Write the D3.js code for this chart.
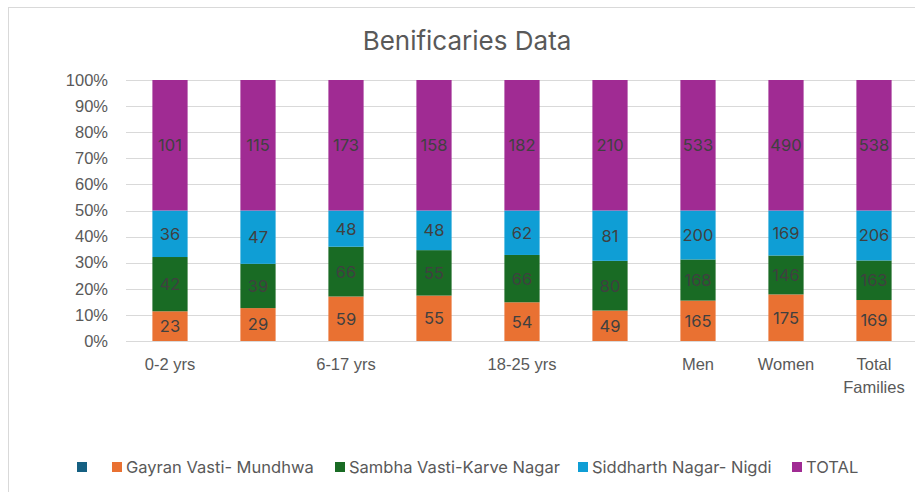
<!DOCTYPE html>
<html>
<head>
<meta charset="utf-8">
<script src="https://cdn.jsdelivr.net/npm/d3@7"></script>
<style>
  body { margin: 0; background: #fff; }
  svg { display: block; font-family: Inter, "Noto Sans", sans-serif; }
  .grid line { stroke: #d9d9d9; stroke-width: 1; }
  .tick-label { fill: #595959; font-size: 16.5px; }
  .data-label { fill: #404040; font-size: 16.5px; }
</style>
</head>
<body>
<div id="chart"></div>
<script>
const chartTitle = 'Benificaries Data'
const tickLabels = ['0-2 yrs', '', '6-17 yrs', '', '18-25 yrs', '', 'Men', 'Women', 'Total Families']
const seriesNames = ['', 'Gayran Vasti- Mundhwa', 'Sambha Vasti-Karve Nagar', 'Siddharth Nagar- Nigdi', 'TOTAL']
const seriesColors = ['#156082', '#e97132', '#196b24', '#0f9ed5', '#a02b93']
const blankSeries = [null, null, null, null, null, null, null, null, null]
const gayran = [23, 29, 59, 55, 54, 49, 165, 175, 169]
const sambha = [42, 39, 66, 55, 66, 80, 168, 146, 163]
const siddharth = [36, 47, 48, 48, 62, 81, 200, 169, 206]
const total = [101, 115, 173, 158, 182, 210, 533, 490, 538]
const yTicks = [0, 0.1, 0.2, 0.3, 0.4, 0.5, 0.6, 0.7, 0.8, 0.9, 1]

const width = 915, height = 492
const margin = { top: 80, right: -3, bottom: 151, left: 126 }

const svg = d3.select('#chart')
    .append('svg')
    .attr('width', width)
    .attr('height', height)

// chart area border (cut off at the right and bottom of the picture)
svg.append('rect')
    .attr('x', 8.5)
    .attr('y', 7.5)
    .attr('width', width + 20)
    .attr('height', height + 20)
    .attr('fill', 'none')
    .attr('stroke', '#d9d9d9')

svg.append('text')
    .attr('x', 467)
    .attr('y', 50)
    .attr('text-anchor', 'middle')
    .attr('fill', '#595959')
    .style('font-size', '26px')
    .text(chartTitle)

const idx = d3.range(tickLabels.length)
const x = d3.scaleBand()
    .domain(idx)
    .range([margin.left, width - margin.right])
    .paddingInner(0.6)
    .paddingOuter(0.3)
const y = d3.scaleLinear()
    .domain([0, 1])
    .range([height - margin.bottom, margin.top])

const grid = svg.append('g').attr('class', 'grid')
grid.selectAll('line')
    .data(yTicks)
    .enter().append('line')
    .attr('x1', margin.left)
    .attr('x2', width - margin.right)
    .attr('y1', d => Math.round(y(d)) + 0.5)
    .attr('y2', d => Math.round(y(d)) + 0.5)

const yAxis = d3.axisLeft(y)
    .tickValues(yTicks)
    .tickFormat(d3.format('.0%'))
    .tickSize(0)
    .tickPadding(18)
svg.append('g')
    .attr('transform', 'translate(' + margin.left + ',0)')
    .call(yAxis)
    .call(g => g.select('.domain').remove())
    .call(g => g.selectAll('text').attr('class', 'tick-label').attr('font-family', null).attr('font-size', null))

const xAxis = d3.axisBottom(x)
    .tickFormat(i => tickLabels[i])
    .tickSize(0)
    .tickPadding(17)
svg.append('g')
    .attr('transform', 'translate(0,' + (height - margin.bottom) + ')')
    .call(xAxis)
    .call(g => g.select('.domain').remove())
    .call(g => g.selectAll('text')
        .attr('class', 'tick-label')
        .attr('font-family', null)
        .attr('font-size', null)
        .each(function(i) {
          const words = tickLabels[i].split(' ')
          if (tickLabels[i] === 'Total Families') {
            const t = d3.select(this).text(null)
            words.forEach((w, k) => {
              t.append('tspan').attr('x', 0).attr('dy', k === 0 ? '0.71em' : '1.4em').text(w)
            })
          }
        }))

const rows = idx.map(i => ({
  i,
  s0: blankSeries[i] || 0,
  s1: gayran[i],
  s2: sambha[i],
  s3: siddharth[i],
  s4: total[i]
}))
const keys = ['s0', 's1', 's2', 's3', 's4']
const stack = d3.stack().keys(keys).offset(d3.stackOffsetExpand)
const layers = stack(rows)

const layerG = svg.append('g')
    .selectAll('g')
    .data(layers)
    .enter().append('g')
    .attr('fill', (d, k) => seriesColors[k])

layerG.selectAll('rect')
    .data(d => d.filter(p => p.data[d.key] > 0))
    .enter().append('rect')
    .attr('x', p => x(p.data.i))
    .attr('width', x.bandwidth())
    .attr('y', p => y(p[1]))
    .attr('height', p => y(p[0]) - y(p[1]))

layerG.selectAll('text')
    .data(d => d.filter(p => p.data[d.key] > 0).map(p => ({ p, v: p.data[d.key] })))
    .enter().append('text')
    .attr('class', 'data-label')
    .attr('x', d => x(d.p.data.i) + x.bandwidth() / 2)
    .attr('y', d => (y(d.p[0]) + y(d.p[1])) / 2)
    .attr('dy', '0.36em')
    .attr('text-anchor', 'middle')
    .text(d => d.v)

// legend
const legendX = [77, 112, 335, 578, 792]
const legend = svg.append('g')
    .selectAll('g')
    .data(seriesNames)
    .enter().append('g')
    .attr('transform', (d, k) => 'translate(' + legendX[k] + ',462)')
legend.append('rect')
    .attr('width', 10)
    .attr('height', 10)
    .attr('fill', (d, k) => seriesColors[k])
legend.append('text')
    .attr('class', 'tick-label')
    .attr('x', 14)
    .attr('y', 5)
    .attr('dy', '0.36em')
    .text(d => d)
</script>
</body>
</html>
